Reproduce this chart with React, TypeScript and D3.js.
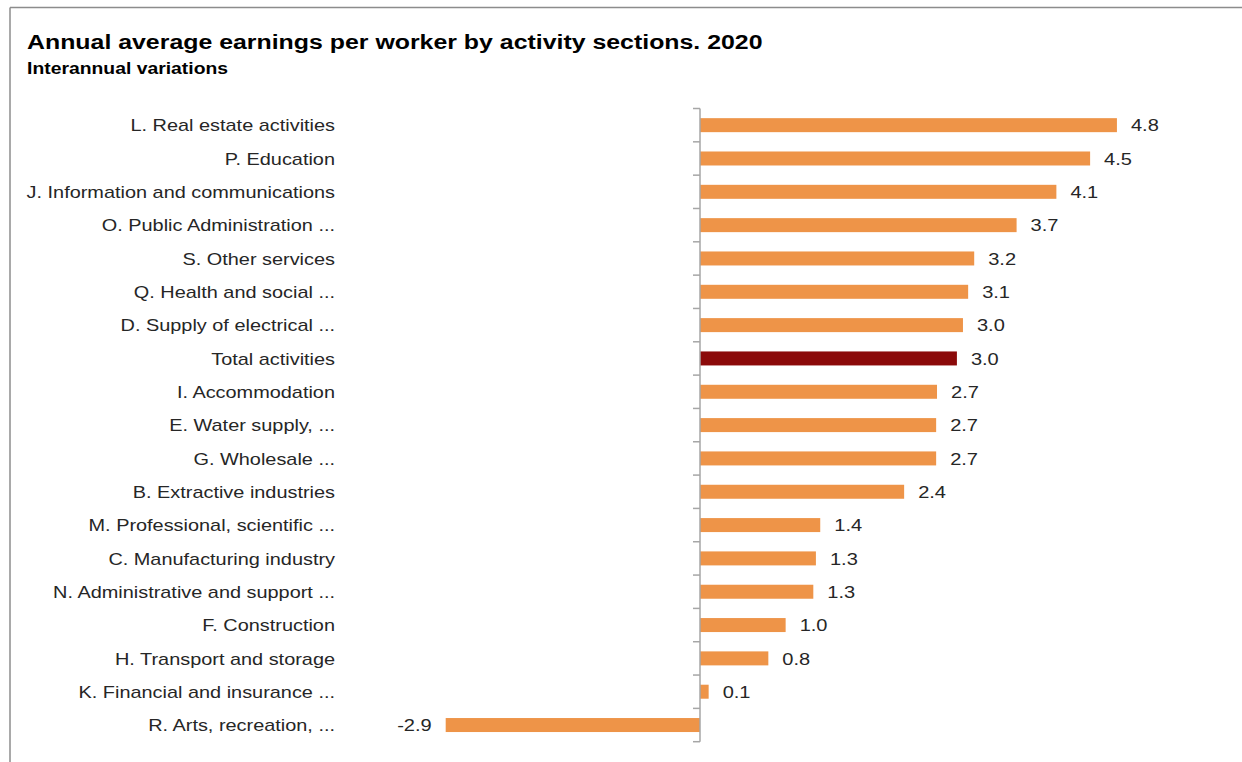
import React from "react";
import * as d3 from "d3";

const categories = [
  "L. Real estate activities",
  "P. Education",
  "J. Information and communications",
  "O. Public Administration ...",
  "S. Other services",
  "Q. Health and social ...",
  "D. Supply of electrical ...",
  "Total activities",
  "I. Accommodation",
  "E. Water supply, ...",
  "G. Wholesale ...",
  "B. Extractive industries",
  "M. Professional, scientific ...",
  "C. Manufacturing industry",
  "N. Administrative and support ...",
  "F. Construction",
  "H. Transport and storage",
  "K. Financial and insurance ...",
  "R. Arts, recreation, ...",
];

const values = [4.82, 4.51, 4.12, 3.66, 3.17, 3.1, 3.04, 2.97, 2.74, 2.73, 2.73, 2.36, 1.39, 1.34, 1.31, 0.99, 0.79, 0.1, -2.94];

const highlight = "Total activities";

const W = 1242;
const H = 762;
const ZERO_X = 700;
const PX_PER_UNIT = 86.5;

function SText(props: {
  x: number;
  y: number;
  sx: number;
  size: number;
  anchor?: "start" | "end";
  bold?: boolean;
  fill?: string;
  dy?: string;
  children: React.ReactNode;
}) {
  return (
    <text
      transform={`translate(${props.x},${props.y}) scale(${props.sx},1)`}
      fontSize={props.size}
      fontWeight={props.bold ? "bold" : "normal"}
      fill={props.fill ?? "#262626"}
      textAnchor={props.anchor ?? "start"}
      dy={props.dy}
    >
      {props.children}
    </text>
  );
}

export default function App() {
  const x = d3
    .scaleLinear()
    .domain([0, 1])
    .range([ZERO_X, ZERO_X + PX_PER_UNIT]);
  const y = d3
    .scaleBand<string>()
    .domain(categories)
    .range([108.5, 741.7])
    .paddingInner(0.58)
    .paddingOuter(0.29);
  const step = y.step();
  const bandTop = y.range()[0];
  const tickYs = d3.range(categories.length + 1).map((i) => bandTop + i * step);
  const font = "'Liberation Sans', Arial, sans-serif";

  return (
    <svg
      width={W}
      height={H}
      style={{ position: "absolute", left: 0, top: 0 }}
      fontFamily={font}
    >
      <rect x={0} y={0} width={W} height={H} fill="#fff" />
      <line x1={10} y1={7.5} x2={W} y2={7.5} stroke="#8c8c8c" strokeWidth={1.5} />
      <line x1={10} y1={7.5} x2={10} y2={H} stroke="#8c8c8c" strokeWidth={1.5} />
      <SText x={27} y={49} sx={1.185} size={21} bold fill="#000">
        Annual average earnings per worker by activity sections. 2020
      </SText>
      <SText x={27} y={74} sx={1.21} size={16} bold fill="#000">
        Interannual variations
      </SText>
      {categories.map((c, i) => {
        const v = values[i];
        const yy = y(c)!;
        const x0 = Math.min(x(0), x(v));
        const w = Math.abs(x(v) - x(0));
        const cy = yy + y.bandwidth() / 2;
        return (
          <g key={c}>
            <rect
              x={x0}
              y={yy}
              width={w}
              height={y.bandwidth()}
              fill={c === highlight ? "#8b0a0a" : "#ee9448"}
            />
            <SText
              x={v >= 0 ? x(v) + 14 : x(v) - 14}
              y={cy}
              dy="0.36em"
              sx={1.18}
              size={17}
              anchor={v >= 0 ? "start" : "end"}
            >
              {v.toFixed(1)}
            </SText>
            <SText x={335} y={cy} dy="0.36em" sx={1.17} size={17} anchor="end">
              {c}
            </SText>
          </g>
        );
      })}
      <line
        x1={x(0)}
        x2={x(0)}
        y1={tickYs[0]}
        y2={tickYs[tickYs.length - 1]}
        stroke="#a6a6a6"
        strokeWidth={1.5}
      />
      {tickYs.map((t, i) => (
        <line key={i} x1={x(0) - 7} x2={x(0)} y1={t} y2={t} stroke="#a6a6a6" strokeWidth={1.5} />
      ))}
    </svg>
  );
}
